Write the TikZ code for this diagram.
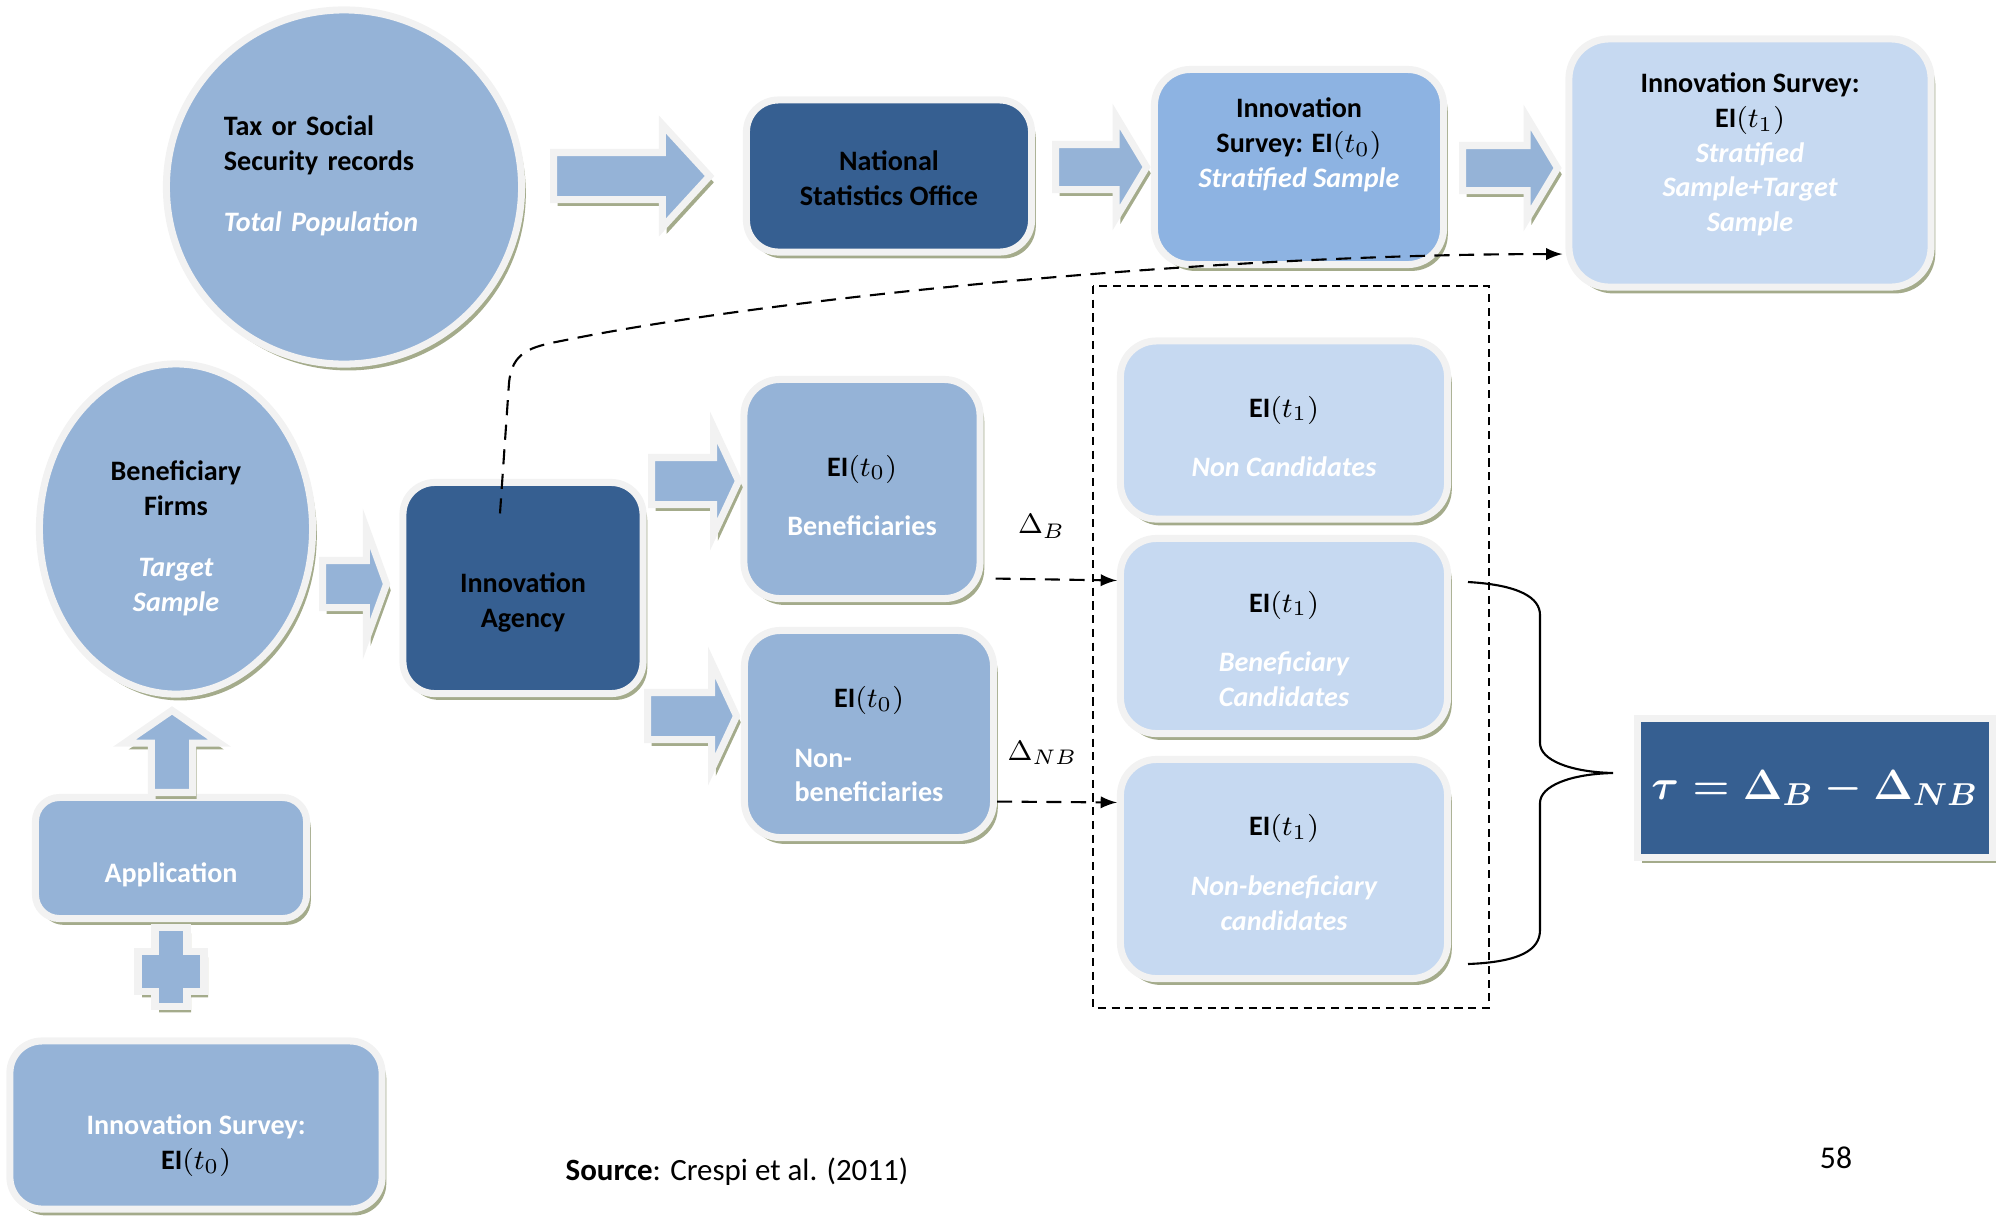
\documentclass[tikz,border=0pt]{standalone}
\usepackage{fontspec}
\setmainfont{Carlito}
\usetikzlibrary{arrows, shapes.geometric, shapes.arrows, shadows, positioning}

\definecolor{midblue}{HTML}{95B3D7}
\definecolor{darkblue}{HTML}{365F91}
\definecolor{survblue}{HTML}{8DB3E2}
\definecolor{paleblue}{HTML}{C6D9F1}
\definecolor{rimgray}{HTML}{F2F2F2}
\definecolor{shadowc}{HTML}{A4AB8B}

\newcommand{\wit}[1]{{\color{white}\itshape #1}}
\newcommand{\wht}[1]{{\color{white}#1}}
\newcommand{\lift}[1]{\rule{0pt}{#1}}

\begin{document}
\begin{tikzpicture}[x=0.01cm, y=-0.01cm]
	\tikzset {>=latex,
		txt/.style={font=\fontsize{8}{9.9}\selectfont\bfseries},
		card/.style={txt, draw=rimgray, line width=2pt, rounded corners=0.32cm, align=center, inner sep=0pt,
			drop shadow={shadow xshift=1.2pt, shadow yshift=-1.8pt, fill=shadowc, opacity=1}},
		blob/.style={card, ellipse, sharp corners},
		formula/.style={card, rounded corners=0pt, fill=darkblue, text=white, font=\fontsize{12.5}{15}\selectfont},
		flow/.style={draw=rimgray, line width=2pt, fill=midblue, single arrow, inner xsep=0pt, inner ysep=0.2cm,
			single arrow head extend=0.28cm,
			drop shadow={shadow xshift=1.2pt, shadow yshift=-1.8pt, fill=shadowc, opacity=1}},
		gapline/.style={line width=0.6pt, dash pattern=on 4.3pt off 2.7pt},
		boxline/.style={line width=0.6pt, dash pattern=on 2.3pt off 1.6pt}
	}
	\useasboundingbox (0,0) rectangle (1999,1217);

	% top row
	\node[blob, fill=midblue, minimum width=3.55cm, minimum height=3.54cm, text width=2.4cm, align=left] (taxc) at (344,187)
		{Tax or Social\\Security records\\[7.5pt]\wit{Total Population}\\[-2.5pt]~};
	\node[card, fill=darkblue, minimum width=2.85cm, minimum height=1.52cm] (nso) at (889,176) {\lift{7pt}National\\Statistics Office};
	\node[card, fill=survblue, minimum width=2.89cm, minimum height=1.95cm, rounded corners=0.36cm] (surv0) at (1299,167)
		{Innovation\\Survey: EI$(t_0)$\\\wit{Stratified Sample}\\[4pt]~};
	\node[card, fill=paleblue, minimum width=3.62cm, minimum height=2.48cm, rounded corners=0.4cm] (surv1) at (1750,163)
		{Innovation Survey:\\EI$(t_1)$\\\wit{Stratified}\\\wit{Sample+Target}\\\wit{Sample}\\[-3.7pt]~};

	% left column
	\node[blob, fill=midblue, minimum width=2.73cm, minimum height=3.30cm] (benf) at (176,529)
		{\lift{11pt}Beneficiary\\Firms\\[7.5pt]\wit{Target}\\\wit{Sample}};
	\node[card, fill=midblue, minimum width=2.71cm, minimum height=1.21cm, rounded corners=0.24cm] (appl) at (171,858)
		{~\\[5.2pt]\wht{Application}};
	\node[card, fill=midblue, minimum width=3.72cm, minimum height=1.68cm] (survbase) at (196,1125)
		{~\\[7.5pt]\wht{Innovation Survey:}\\EI$(t_0)$};

	% agency and its two groups
	\node[card, fill=darkblue, minimum width=2.40cm, minimum height=2.11cm] (agency) at (523,588) {\lift{14pt}Innovation\\Agency};
	\node[card, fill=midblue, minimum width=2.36cm, minimum height=2.19cm, rounded corners=0.36cm] (ben) at (862,489)
		{\lift{9.6pt}EI$(t_0)$\\[7pt]\wht{Beneficiaries}};
	\node[card, fill=midblue, minimum width=2.49cm, minimum height=2.07cm, rounded corners=0.36cm] (nonben) at (869,734)
		{\lift{14.7pt}EI$(t_0)$\\[7pt]\begin{tabular}{@{}l@{}}\wht{Non-}\\\wht{beneficiaries}\end{tabular}};

	% follow-up survey
	\node[card, fill=paleblue, minimum width=3.27cm, minimum height=1.78cm, rounded corners=0.36cm] (noncand) at (1284,430)
		{\lift{9.6pt}EI$(t_1)$\\[7pt]\wit{Non Candidates}};
	\node[card, fill=paleblue, minimum width=3.27cm, minimum height=1.95cm, rounded corners=0.36cm] (bencand) at (1284,636)
		{\lift{13.2pt}EI$(t_1)$\\[7pt]\wit{Beneficiary}\\\wit{Candidates}};
	\node[card, fill=paleblue, minimum width=3.27cm, minimum height=2.19cm, rounded corners=0.36cm] (nbcand) at (1284,869)
		{\lift{8pt}EI$(t_1)$\\[7pt]\wit{Non-beneficiary}\\\wit{candidates}};
	\draw[boxline] (1093,286) rectangle (1489,1008);

	\node[formula, minimum width=3.54cm, minimum height=1.38cm] (tau) at (1815,788)
		{{\boldmath$\tau=\Delta_B-\Delta_{NB}$}};

	% block arrows
	\node[flow, anchor=tail, minimum height=1.56cm, single arrow tip angle=95] (a1) at (550,176) {};
	\node[flow, anchor=tail, minimum height=0.91cm, single arrow tip angle=118, inner ysep=0.19cm] (a2) at (1052,167) {};
	\node[flow, anchor=tail, minimum height=0.95cm, single arrow tip angle=118, inner ysep=0.19cm] (a3) at (1459,168) {};
	\node[flow, anchor=tail, minimum height=0.64cm, single arrow tip angle=140, single arrow head extend=0.32cm] (a4) at (319,584) {};
	\node[flow, anchor=tail, minimum height=0.87cm, single arrow tip angle=130, single arrow head extend=0.3cm] (a5) at (648,481) {};
	\node[flow, anchor=tail, minimum height=0.89cm, single arrow tip angle=130, single arrow head extend=0.3cm] (a6) at (644,716) {};
	\node[flow, anchor=tail, minimum height=0.82cm, single arrow tip angle=111, inner xsep=0.17cm, inner ysep=0pt,
		single arrow head extend=0.27cm, shape border rotate=90] (a7) at (172,796) {};
	\draw[draw=rimgray, line width=2pt, fill=midblue,
		drop shadow={shadow xshift=1.2pt, shadow yshift=-1.8pt, fill=shadowc, opacity=1}]
		(155,927) -- (187,927) -- (187,951) -- (204,951) -- (204,991) -- (187,991) -- (187,1006)
		-- (155,1006) -- (155,991) -- (138,991) -- (138,951) -- (155,951) -- cycle;

	% comparisons
	\draw[gapline, ->] ([xshift=0.12cm, yshift=0.235cm]ben.south east) -- ([yshift=-0.455cm]bencand.north west)
		node[pos=0.38, above=0.4cm, inner sep=0pt, font=\fontsize{8}{10}\selectfont] (dB) {$\Delta_B$};
	\draw[gapline, ->] ([yshift=0.395cm]nonben.south east) -- ([yshift=-0.465cm]nbcand.north west)
		node[pos=0.38, above=0.36cm, inner sep=0pt, font=\fontsize{8}{10}\selectfont] (dNB) {$\Delta_{NB}$};

	\coordinate (agtop) at ([xshift=-0.23cm, yshift=-0.345cm]agency.north);
	\coordinate (svin) at ([xshift=-0.03cm, yshift=-0.91cm]surv1.west);
	\draw[gapline, ->] (agtop) -- (509,383) .. controls (512,352) and (530,347) .. (561,341)
		.. controls (760,300) and (1200,254) .. (svin);

	% brace
	\draw[line width=0.6pt] (1468,582) .. controls (1520,585) and (1540,598) .. (1540,615) -- (1540,743)
		.. controls (1540,760) and (1570,772) .. (1613,773) .. controls (1570,774) and (1540,786) .. (1540,803)
		-- (1540,930) .. controls (1540,950) and (1520,962) .. (1468,964);

	\node[anchor=west, inner sep=0pt, font=\fontsize{8.8}{11}\selectfont] (src) at (565,1172) {\textbf{Source}: Crespi et al. (2011)};
	\node[font=\fontsize{9}{11}\selectfont] (pg) at (1836,1158) {58};
\end{tikzpicture}
\end{document}
